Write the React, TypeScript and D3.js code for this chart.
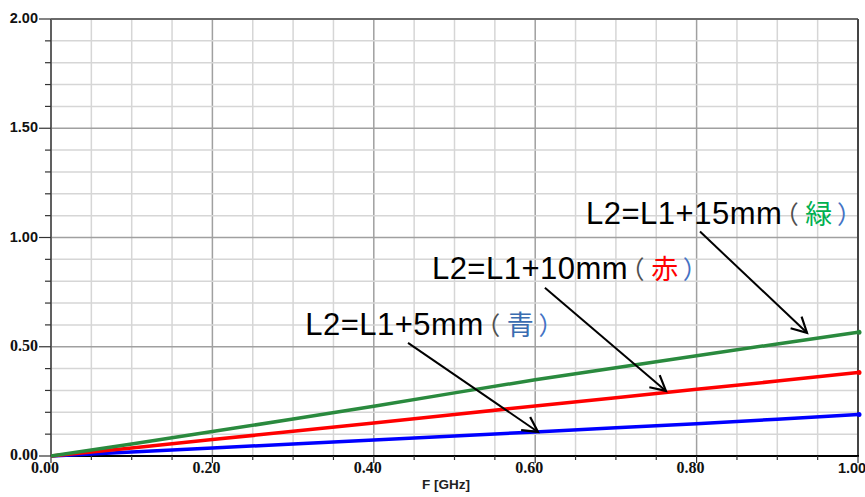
import React from "react";
import * as d3 from "d3";

const freqs = [0, 0.1, 0.2, 0.3, 0.4, 0.5, 0.6, 0.7, 0.8, 0.9, 1.0];
const blueVals = [0, 0.018, 0.037, 0.055, 0.073, 0.092, 0.11, 0.129, 0.148, 0.168, 0.19];
const redVals = [0, 0.037, 0.075, 0.113, 0.151, 0.19, 0.229, 0.267, 0.305, 0.343, 0.382];
const greenVals = [0, 0.055, 0.112, 0.169, 0.228, 0.289, 0.349, 0.404, 0.459, 0.513, 0.566];

const xTickLabels = ["0.00", "0.20", "0.40", "0.60", "0.80", "1.00"];
const yTickLabels = ["0.00", "0.50", "1.00", "1.50", "2.00"];
const xTitle = "F [GHz]";

const seriesNames = ["青", "赤", "緑"];
const seriesLabels = ["L2=L1+5mm", "L2=L1+10mm", "L2=L1+15mm"];
// annotation anchors (data coords): text start, arrow start, arrow tip
const labelPos = [
  [0.315, 0.555],
  [0.472, 0.812],
  [0.663, 1.064],
];
const arrowFrom = [
  [0.4424, 0.518],
  [0.612, 0.77],
  [0.8042, 1.027],
];
const arrowTo = [
  [0.6035, 0.11],
  [0.762, 0.298],
  [0.9368, 0.564],
];

const W = 865;
const H = 497;
const left = 51;
const right = 858;
const top = 19;
const bottom = 456;

const lineColors = ["#0000ff", "#ff0000", "#2a8a3e"];
const nameColors = ["#3a6cb0", "#ff0000", "#00b050"];

export default function App() {
  const x = d3.scaleLinear().domain([0, 1]).range([left, right]);
  const y = d3.scaleLinear().domain([0, 2]).range([bottom, top]);

  const xMinor = d3.range(0, 21).map((i) => i * 0.05);
  const yMinor = d3.range(0, 21).map((i) => i * 0.1);
  const isMajorX = (v: number) => Math.abs(v / 0.2 - Math.round(v / 0.2)) < 1e-6;
  const isMajorY = (v: number) => Math.abs(v / 0.5 - Math.round(v / 0.5)) < 1e-6;

  const series = [blueVals, redVals, greenVals];
  const line = d3
    .line<[number, number]>()
    .x((d) => x(d[0]))
    .y((d) => y(d[1]));

  const labelFont = (s: string) =>
    s.startsWith("0") ? "'Liberation Serif', serif" : "'Liberation Sans', Arial, sans-serif";
  const labelSize = (s: string) => (s.startsWith("0") ? 16 : 14.5);

  const cjk: React.CSSProperties = { fontFeatureSettings: '"palt"' };

  return (
    <svg
      width={W}
      height={H}
      style={{ position: "absolute", left: 0, top: 0, background: "#fff" }}
    >
      <rect x={0} y={0} width={W} height={H} fill="#fff" />
      {/* grid */}
      {xMinor.map((v, i) => (
        <line
          key={"gx" + i}
          x1={x(v)}
          x2={x(v)}
          y1={top}
          y2={bottom}
          stroke={isMajorX(v) ? "#a0a0a0" : "#d6d6d6"}
          strokeWidth={1.5}
        />
      ))}
      {yMinor.map((v, i) => (
        <line
          key={"gy" + i}
          x1={left}
          x2={right}
          y1={y(v)}
          y2={y(v)}
          stroke={isMajorY(v) ? "#a0a0a0" : "#d6d6d6"}
          strokeWidth={1.5}
        />
      ))}
      {/* frame */}
      <line x1={left} x2={right} y1={top} y2={top} stroke="#6a6a6a" strokeWidth={2} />
      <line x1={right} x2={right} y1={top} y2={bottom} stroke="#444" strokeWidth={2} />
      <line x1={left} x2={left} y1={top} y2={bottom} stroke="#606060" strokeWidth={2} />
      <line x1={left} x2={right + 1} y1={bottom} y2={bottom} stroke="#000" strokeWidth={2} />
      {/* ticks */}
      {xMinor.map((v, i) => (
        <line
          key={"tx" + i}
          x1={x(v)}
          x2={x(v)}
          y1={bottom}
          y2={bottom + (isMajorX(v) ? 7 : 4)}
          stroke="#333"
          strokeWidth={1.2}
        />
      ))}
      {yMinor.map((v, i) => (
        <line
          key={"ty" + i}
          x1={left - (isMajorY(v) ? 12 : 6)}
          x2={left}
          y1={y(v)}
          y2={y(v)}
          stroke="#333"
          strokeWidth={1.2}
        />
      ))}
      {/* tick labels */}
      {xTickLabels.map((s) => (
        <text
          key={"xl" + s}
          x={x(+s) - 6}
          y={473}
          textAnchor="middle"
          fontFamily={labelFont(s)}
          fontWeight="bold"
          fontSize={labelSize(s)}
          fill="#111"
        >
          {s}
        </text>
      ))}
      {yTickLabels.map((s) => (
        <text
          key={"yl" + s}
          x={38}
          y={y(+s) + 4}
          textAnchor="end"
          fontFamily={labelFont(s)}
          fontWeight="bold"
          fontSize={labelSize(s)}
          fill="#111"
        >
          {s}
        </text>
      ))}
      <text
        x={446}
        y={489}
        textAnchor="middle"
        fontFamily="'Liberation Sans', Arial, sans-serif"
        fontWeight="bold"
        fontSize={13.5}
        fill="#222"
      >
        {xTitle}
      </text>
      {/* series */}
      {series.map((vals, si) => {
        const pts = freqs.map((f, i) => [f, vals[i]] as [number, number]);
        const last = pts[pts.length - 1];
        return (
          <g key={"s" + si}>
            <path
              d={line(pts) || ""}
              fill="none"
              stroke={lineColors[si]}
              strokeWidth={3.5}
            />
            <circle cx={x(last[0]) + 1} cy={y(last[1])} r={2.5} fill={lineColors[si]} />
          </g>
        );
      })}
      {/* annotations */}
      {seriesLabels.map((lab, i) => {
        const tx = x(labelPos[i][0]);
        const ty = y(labelPos[i][1]);
        const x1 = x(arrowFrom[i][0]);
        const y1 = y(arrowFrom[i][1]);
        const x2 = x(arrowTo[i][0]);
        const y2 = y(arrowTo[i][1]);
        const ang = Math.atan2(y2 - y1, x2 - x1);
        const len = 17;
        const spread = (28 * Math.PI) / 180;
        const a1x = x2 - len * Math.cos(ang - spread);
        const a1y = y2 - len * Math.sin(ang - spread);
        const a2x = x2 - len * Math.cos(ang + spread);
        const a2y = y2 - len * Math.sin(ang + spread);
        return (
          <g key={"a" + i}>
            <line x1={x1} y1={y1} x2={x2} y2={y2} stroke="#000" strokeWidth={2} />
            <polyline
              points={`${a1x},${a1y} ${x2},${y2} ${a2x},${a2y}`}
              fill="none"
              stroke="#000"
              strokeWidth={2.2}
            />
            <text
              x={tx}
              y={ty}
              fontFamily="'Liberation Sans', Arial, sans-serif"
              fontSize={31}
              letterSpacing={0.5}
              fill="#000"
            >
              <tspan>{lab}</tspan>
              <tspan fontFamily="'Noto Sans CJK JP', sans-serif" fontSize={25} dx={3} fill="#505050" style={cjk}>
                （
              </tspan>
              <tspan fontFamily="'Noto Sans CJK JP', sans-serif" fontSize={27} dx={7} fill={nameColors[i]} style={cjk}>
                {seriesNames[i]}
              </tspan>
              <tspan fontFamily="'Noto Sans CJK JP', sans-serif" fontSize={25} dx={5} fill="#4472c4" style={cjk}>
                ）
              </tspan>
            </text>
          </g>
        );
      })}
    </svg>
  );
}
